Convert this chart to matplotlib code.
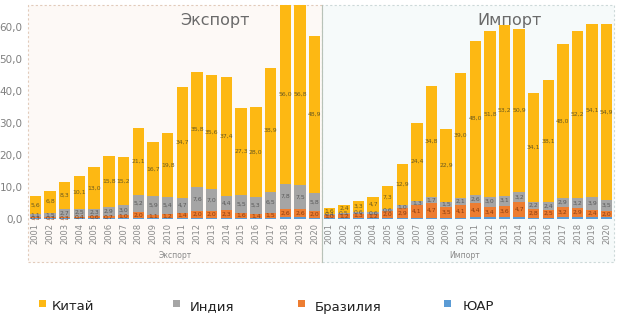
import numpy as np
import matplotlib
matplotlib.use("Agg")
import matplotlib.pyplot as plt
from matplotlib.patches import Rectangle

W, H = 623, 322

years = [str(y) for y in range(2001, 2021)]

exp_china = [5.6, 6.8, 8.3, 10.1, 13.0, 15.8, 15.2, 21.1, 16.7, 19.8,
             34.7, 35.8, 35.6, 37.4, 27.3, 28.0, 38.9, 56.0, 56.8, 48.9]
exp_india = [1.1, 1.5, 2.7, 2.5, 2.3, 2.9, 3.0, 5.2, 5.9, 5.4,
             4.7, 7.6, 7.0, 4.4, 5.5, 5.3, 6.5, 7.8, 7.5, 5.8]
exp_brazil = [0.3, 0.3, 0.3, 0.4, 0.6, 0.7, 1.0, 2.0, 1.1, 1.2,
              1.4, 2.0, 2.0, 2.3, 1.6, 1.4, 1.5, 2.6, 2.6, 2.0]
exp_sa = [0.2, 0.2, 0.2, 0.3, 0.3, 0.3, 0.3, 0.3, 0.3, 0.4,
          0.4, 0.4, 0.4, 0.4, 0.3, 0.3, 0.4, 0.5, 0.5, 0.4]

imp_china = [1.6, 2.4, 3.3, 4.7, 7.3, 12.9, 24.4, 34.8, 22.9, 39.0,
             48.0, 51.8, 53.2, 50.9, 34.1, 38.1, 48.0, 52.2, 54.1, 54.9]
imp_india = [0.4, 0.5, 0.6, 0.6, 0.6, 1.0, 1.3, 1.7, 1.5, 2.1,
             2.6, 3.0, 3.1, 3.2, 2.2, 2.4, 2.9, 3.2, 3.9, 3.5]
imp_brazil = [1.0, 1.2, 1.3, 1.2, 2.0, 2.9, 4.1, 4.7, 3.5, 4.1,
              4.4, 3.4, 3.6, 4.7, 2.8, 2.5, 3.2, 2.9, 2.4, 2.0]
imp_sa = [0.3, 0.3, 0.4, 0.4, 0.4, 0.4, 0.3, 0.4, 0.3, 0.4,
          0.5, 0.5, 0.6, 0.6, 0.4, 0.4, 0.5, 0.5, 0.5, 0.5]

countries = ["Китай", "Индия", "Бразилия", "ЮАР"]
colors = ["#FDB813", "#A5A5A5", "#ED7D31", "#5B9BD5"]
label_colors = ["#6b5a20", "#5a5a5a", "#8a3d10", "#3c5f85"]


def px(x0, y0, x1, y1):
    return [x0 / W, 1 - y1 / H, (x1 - x0) / W, (y1 - y0) / H]


def fmt(v):
    return f"{v:.1f}".replace(".", ",")


def draw_panel(fig, rect, series, title, title_x, sub_x, show_y):
    ax = fig.add_axes(rect)
    ax.set_facecolor("none")
    x = np.arange(len(years))
    bottom = np.zeros(len(years))
    # stacked order: South Africa at the bottom, then Brazil, India, China
    for i in [3, 2, 1, 0]:
        vals = np.array(series[i])
        ax.bar(x, vals, 0.78, bottom=bottom, color=colors[i], linewidth=0)
        if i != 3:
            for xi, b, v in zip(x, bottom, vals):
                ax.text(xi, b + v / 2, fmt(v), ha="center", va="center",
                        fontsize=4.4, color=label_colors[i])
        bottom += vals
    ax.set_xlim(-0.5, len(years) - 0.5)
    ax.set_ylim(0, 66.9)
    for s in ax.spines.values():
        s.set_visible(False)
    ax.set_xticks(x)
    ax.set_xticklabels(years, rotation=90, fontsize=6, color="#8a8a8a")
    ax.tick_params(axis="x", length=0, pad=3)
    if show_y:
        ax.set_yticks(np.arange(0, 61, 10))
        ax.set_yticklabels([fmt(v) for v in np.arange(0, 61, 10)],
                           fontsize=7.5, color="#808080")
        ax.tick_params(axis="y", length=0, pad=4)
    else:
        ax.set_yticks([])
    fig.text(title_x / W, 1 - 20 / H, title, ha="center", va="center",
             fontsize=11.5, color="#6a6a6a")
    fig.text(sub_x / W, 1 - 256 / H, title, ha="center", va="center",
             fontsize=5.5, color="#8a8a8a")
    return ax


fig = plt.figure(figsize=(W / 100, H / 100), dpi=100)
fig.patch.set_facecolor("white")

# panel backgrounds (behind the axes)
fig.patches.append(Rectangle((28 / W, 1 - 262 / H), 294 / W, 257 / H,
                             transform=fig.transFigure, facecolor="#fdf9f6",
                             edgecolor="#e2cbbb", linestyle=(0, (2, 2)),
                             linewidth=0.8, zorder=-5))
fig.patches.append(Rectangle((322 / W, 1 - 262 / H), 292 / W, 257 / H,
                             transform=fig.transFigure, facecolor="#f6fafa",
                             edgecolor="#cdd9d9", linestyle=(0, (2, 2)),
                             linewidth=0.8, zorder=-5))
fig.lines.append(plt.Line2D([322 / W, 322 / W], [1 - 262 / H, 1 - 5 / H],
                            transform=fig.transFigure, color="#b8c2b8",
                            linewidth=0.8, zorder=-4))

draw_panel(fig, px(28, 5, 322, 219),
           [exp_china, exp_india, exp_brazil, exp_sa],
           "Экспорт", 215, 175, True)
draw_panel(fig, px(322, 5, 614, 219),
           [imp_china, imp_india, imp_brazil, imp_sa],
           "Импорт", 510, 465, False)

# legend
leg_sq = [43, 177, 302, 448]
leg_tx = [52, 190, 315, 463]
for name, c, sx, tx in zip(countries, colors, leg_sq, leg_tx):
    fig.patches.append(Rectangle(((sx - 4) / W, 1 - 307 / H), 7 / W, 7 / H,
                                 transform=fig.transFigure, facecolor=c,
                                 edgecolor="none"))
    fig.text(tx / W, 1 - 307 / H, name, ha="left", va="center",
             fontsize=9.5, color="#222222")

fig.savefig("out.png", dpi=100)
